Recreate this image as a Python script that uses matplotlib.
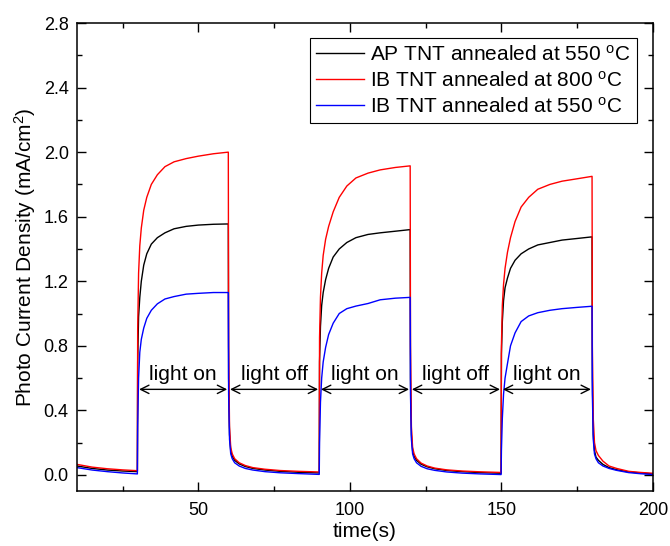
import matplotlib
matplotlib.use('Agg')
import matplotlib.pyplot as plt
from matplotlib.ticker import MultipleLocator, FormatStrFormatter

plt.rcParams['font.family'] = ['Liberation Sans', 'DejaVu Sans']
plt.rcParams['mathtext.default'] = 'regular'

# time (s) sampled along the three on/off cycles
time = [10, 15, 20, 25, 29.9,
        30.0, 30.3, 30.7, 31.2, 32, 33, 34.5, 36.5, 39, 42, 46, 50, 55, 59.9,
        60.0, 60.3, 60.7, 61.2, 62, 63.5, 65.5, 68, 72, 77, 83, 89.9,
        90.0, 90.3, 90.7, 91.2, 92, 93, 94.5, 96.5, 99, 102, 106, 110, 115, 119.9,
        120.0, 120.3, 120.7, 121.2, 122, 123.5, 125.5, 128, 132, 137, 143, 149.9,
        150.0, 150.3, 150.7, 151.2, 152, 153, 154.5, 156.5, 159, 162, 166, 170, 175, 179.9,
        180.0, 180.3, 180.7, 181.2, 182, 183.5, 185.5, 188, 192, 196, 200]

# photocurrent density (mA/cm2)
ap_550 = [0.055, 0.04, 0.03, 0.024, 0.02,
          0.7, 0.98, 1.10, 1.20, 1.30, 1.37, 1.43, 1.47, 1.50, 1.525, 1.54, 1.548, 1.553, 1.555,
          0.6, 0.25, 0.15, 0.115, 0.09, 0.068, 0.052, 0.04, 0.03, 0.022, 0.016, 0.012,
          0.7, 0.92, 1.05, 1.13, 1.21, 1.28, 1.35, 1.40, 1.44, 1.47, 1.49, 1.50, 1.51, 1.52,
          0.6, 0.25, 0.15, 0.115, 0.09, 0.066, 0.05, 0.038, 0.027, 0.02, 0.014, 0.01,
          0.75, 0.95, 1.08, 1.16, 1.22, 1.28, 1.33, 1.37, 1.40, 1.425, 1.44, 1.455, 1.465, 1.475,
          0.6, 0.25, 0.15, 0.11, 0.09, 0.065, 0.045, 0.032, 0.018, 0.012, 0.006]

ib_800 = [0.065, 0.048, 0.038, 0.031, 0.026,
          0.9, 1.25, 1.42, 1.53, 1.64, 1.72, 1.80, 1.86, 1.91, 1.94, 1.96, 1.975, 1.99, 2.0,
          0.8, 0.3, 0.17, 0.13, 0.10, 0.075, 0.058, 0.045, 0.035, 0.027, 0.022, 0.018,
          0.85, 1.10, 1.25, 1.36, 1.46, 1.54, 1.63, 1.72, 1.79, 1.84, 1.87, 1.89, 1.905, 1.915,
          0.8, 0.3, 0.17, 0.13, 0.10, 0.073, 0.055, 0.042, 0.031, 0.024, 0.019, 0.015,
          0.8, 1.05, 1.18, 1.28, 1.38, 1.47, 1.57, 1.66, 1.72, 1.77, 1.80, 1.82, 1.835, 1.85,
          0.8, 0.35, 0.2, 0.15, 0.12, 0.085, 0.055, 0.04, 0.022, 0.015, 0.01]

ib_550 = [0.045, 0.03, 0.02, 0.012, 0.006,
          0.3, 0.6, 0.76, 0.84, 0.91, 0.97, 1.02, 1.06, 1.09, 1.105, 1.12, 1.125, 1.13, 1.13,
          0.5, 0.22, 0.13, 0.10, 0.075, 0.055, 0.04, 0.03, 0.02, 0.013, 0.008, 0.003,
          0.2, 0.45, 0.6, 0.7, 0.79, 0.87, 0.94, 1.0, 1.03, 1.046, 1.062, 1.085, 1.095, 1.10,
          0.5, 0.22, 0.13, 0.10, 0.075, 0.053, 0.038, 0.028, 0.018, 0.011, 0.006, 0.002,
          0.15, 0.35, 0.5, 0.6, 0.69, 0.8, 0.88, 0.95, 0.985, 1.005, 1.02, 1.03, 1.038, 1.045,
          0.5, 0.22, 0.13, 0.1, 0.075, 0.055, 0.04, 0.028, 0.014, 0.007, 0.002]

# illumination intervals
period_edges = [30, 60, 90, 120, 150, 180]
period_labels = ['light on', 'light off', 'light on', 'light off', 'light on']

fig = plt.figure(figsize=(6.7, 5.46), dpi=100)
ax = fig.add_axes([0.115, 0.1007, 0.8596, 0.8571])

deg = ' $^{\\mathregular{o}}$C'
ax.plot(time, ap_550, color='black', lw=1, label='AP TNT annealed at 550' + deg)
ax.plot(time, ib_800, color='red', lw=1, label='IB TNT annealed at 800' + deg)
ax.plot(time, ib_550, color='blue', lw=1, label='IB TNT annealed at 550' + deg)

for i, lab in enumerate(period_labels):
    x0, x1 = period_edges[i], period_edges[i + 1]
    ax.annotate('', xy=(x1, 0.53), xytext=(x0, 0.53),
                arrowprops=dict(arrowstyle='<->', color='black', lw=1,
                                shrinkA=1, shrinkB=1, mutation_scale=15))
    ax.text((x0 + x1) / 2, 0.625, lab, ha='center', va='center', fontsize=15)

ax.set_xlim(10, 200)
ax.set_ylim(-0.1, 2.8)
ax.xaxis.set_major_locator(MultipleLocator(50))
ax.xaxis.set_minor_locator(MultipleLocator(25))
ax.yaxis.set_major_locator(MultipleLocator(0.4))
ax.yaxis.set_minor_locator(MultipleLocator(0.2))
ax.yaxis.set_major_formatter(FormatStrFormatter('%.1f'))
ax.tick_params(which='both', direction='in', top=True, right=True, width=1, labelsize=13)
ax.tick_params(which='major', length=6.5)
ax.tick_params(axis='x', which='major', pad=8)
ax.tick_params(axis='y', which='major', pad=6)
ax.tick_params(which='minor', length=3.6)
for sp in ax.spines.values():
    sp.set_linewidth(1.1)

ax.set_xlabel('time(s)', fontsize=15, labelpad=2)
ax.set_ylabel('Photo Current Density (mA/cm$^2$)', fontsize=15, labelpad=4)

leg = ax.legend(loc='upper right', bbox_to_anchor=(637 / 670, 1 - 38 / 546),
                bbox_transform=fig.transFigure, borderaxespad=0, fontsize=15,
                fancybox=False, framealpha=1, edgecolor='black',
                handlelength=2.3, handletextpad=0.3, labelspacing=0.3, borderpad=0.3)
leg.get_frame().set_linewidth(0.8)

fig.savefig('out.png', dpi=100)
